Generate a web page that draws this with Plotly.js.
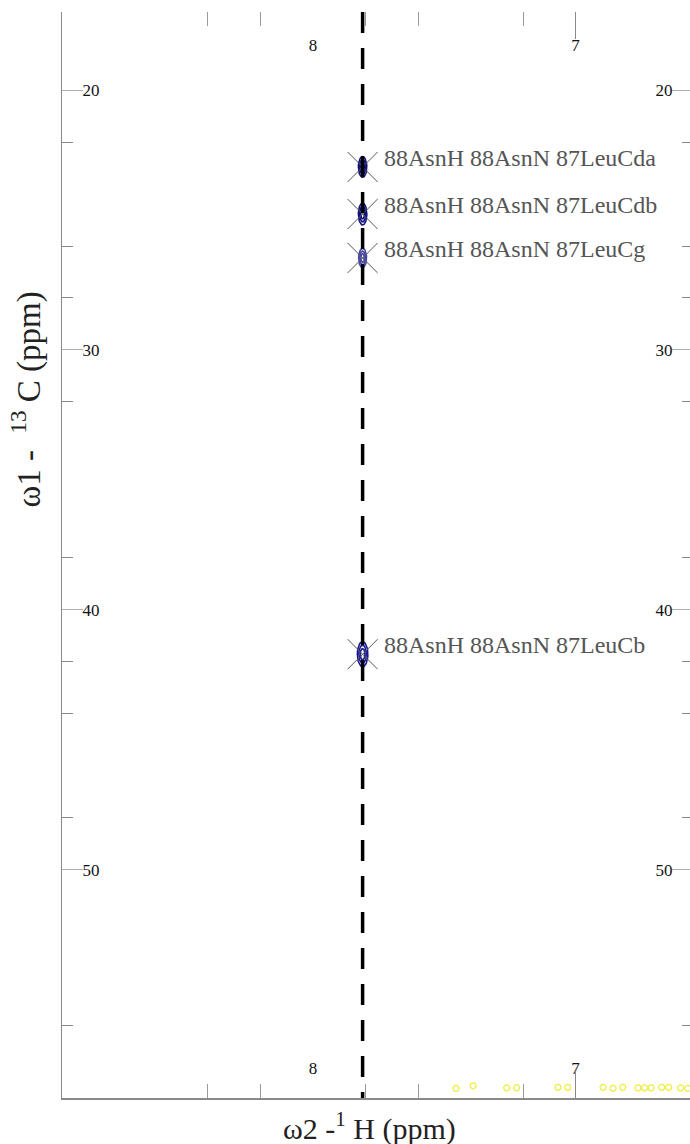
<!DOCTYPE html>
<html>
<head>
<meta charset="utf-8">
<script src="https://cdn.plot.ly/plotly-3.0.1.min.js"></script>
<style>
  html, body { margin: 0; padding: 0; background: #fff; }
  #plot { width: 690px; height: 1144px; }
</style>
</head>
<body>
<div id="plot"></div>
<script>
// Strip of an H(N)CO-type spectrum: 1H (omega2) against 13C (omega1)

// Assigned peaks
const peak_labels = [
  '88AsnH 88AsnN 87LeuCda',
  '88AsnH 88AsnN 87LeuCdb',
  '88AsnH 88AsnN 87LeuCg',
  '88AsnH 88AsnN 87LeuCb'
];
const peak_h = [7.811, 7.811, 7.811, 7.811];        // omega2, ppm
const peak_c = [22.96, 24.77, 26.46, 41.70];        // omega1, ppm
const peak_rh = [0.016, 0.016, 0.015, 0.020];       // contour half-width, ppm
const peak_rc = [0.40, 0.42, 0.37, 0.48];           // contour half-height, ppm
const peak_colors = ['#12127e', '#12127e', '#4848a8', '#1a1a90'];

// Strip centre (dashed line)
const strip_h = 7.811;

// Low-level noise contours along the bottom edge
const noise_h = [7.455, 7.390, 7.262, 7.224, 7.067, 7.030, 6.895, 6.857, 6.820,
                 6.762, 6.737, 6.712, 6.672, 6.645, 6.600, 6.572];
const noise_c = [58.40, 58.30, 58.38, 58.38, 58.36, 58.36, 58.36, 58.40, 58.36,
                 58.38, 58.38, 58.38, 58.36, 58.36, 58.38, 58.40];

// Axis ranges and ticks
const h_range = [8.956, 6.564];
const c_range = [58.77, 17.0];
const h_label_vals = [8, 7];
const h_minor_vals = [8.4, 8.2, 7.8, 7.6, 7.2];
const h_long_vals = [7.0];
const c_label_vals = [20, 30, 40, 50];
const c_minor_vals = [22, 26, 28, 32, 38, 42, 44, 48, 56];

const serif = 'Liberation Serif';
const traces = [];

// Peak contours: nested rings around each centre
const levels = [1.0, 0.72, 0.45];
peak_h.forEach((h, i) => {
  levels.forEach(f => {
    const xs = [], ys = [];
    for (let k = 0; k <= 48; k++) {
      const t = 2 * Math.PI * k / 48;
      xs.push(h + peak_rh[i] * f * Math.cos(t));
      ys.push(peak_c[i] + peak_rc[i] * f * Math.sin(t));
    }
    traces.push({
      type: 'scatter', mode: 'lines', x: xs, y: ys,
      line: { color: peak_colors[i], width: 1.6 },
      hoverinfo: 'skip', showlegend: false
    });
  });
});

// Peak crosses
traces.push({
  type: 'scatter', mode: 'markers', x: peak_h, y: peak_c,
  marker: { symbol: 'x-thin-open', size: 30, color: '#555555', line: { color: '#555555', width: 1 } },
  text: peak_labels, hoverinfo: 'text', showlegend: false
});

// Noise contours
traces.push({
  type: 'scatter', mode: 'markers', x: noise_h, y: noise_c,
  marker: { symbol: 'circle-open', size: 6, color: '#eeec3a', line: { color: '#eeec3a', width: 1.2 } },
  hoverinfo: 'skip', showlegend: false
});

// Strip centre line
traces.push({
  type: 'scatter', mode: 'lines',
  x: [strip_h, strip_h], y: [c_range[1], c_range[0]],
  line: { color: '#000000', width: 3.5, dash: '21px,15px' },
  hoverinfo: 'skip', showlegend: false
});

const tickFont = { family: serif, size: 17, color: '#111' };

const layout = {
  width: 690, height: 1144,
  margin: { l: 62, r: 0, t: 12, b: 46 },
  paper_bgcolor: '#fff', plot_bgcolor: '#fff',
  showlegend: false,
  xaxis: {
    range: h_range, showgrid: false, zeroline: false,
    showline: true, linecolor: '#8a8a8a', linewidth: 1.5,
    tickmode: 'array', tickvals: h_label_vals, ticktext: h_label_vals.map(String),
    ticks: 'inside', ticklen: 21, tickcolor: 'rgba(0,0,0,0)',
    ticklabelposition: 'inside', tickfont: tickFont,
    minor: { tickmode: 'array', tickvals: h_minor_vals, ticks: 'inside', ticklen: 14, tickcolor: '#9a9a9a', tickwidth: 1 }
  },
  xaxis2: {
    overlaying: 'x', side: 'top', anchor: 'y', matches: 'x',
    range: h_range, showgrid: false, zeroline: false, showline: false,
    tickmode: 'array', tickvals: h_label_vals, ticktext: h_label_vals.map(String),
    ticks: 'inside', ticklen: 28, tickcolor: 'rgba(0,0,0,0)',
    ticklabelposition: 'inside', tickfont: tickFont,
    minor: { tickmode: 'array', tickvals: h_minor_vals, ticks: 'inside', ticklen: 14, tickcolor: '#9a9a9a', tickwidth: 1 }
  },
  xaxis3: {
    overlaying: 'x', side: 'bottom', anchor: 'y', matches: 'x',
    range: h_range, showgrid: false, zeroline: false, showline: false,
    tickmode: 'array', tickvals: h_long_vals, showticklabels: false,
    ticks: 'inside', ticklen: 27, tickcolor: '#8a8a8a', tickwidth: 1
  },
  xaxis4: {
    overlaying: 'x', side: 'top', anchor: 'y', matches: 'x',
    range: h_range, showgrid: false, zeroline: false, showline: false,
    tickmode: 'array', tickvals: h_long_vals, showticklabels: false,
    ticks: 'inside', ticklen: 27, tickcolor: '#8a8a8a', tickwidth: 1
  },
  yaxis: {
    range: c_range, showgrid: false, zeroline: false,
    showline: true, linecolor: '#8a8a8a', linewidth: 1.5,
    tickmode: 'array', tickvals: c_label_vals, ticktext: c_label_vals.map(String),
    ticks: 'inside', ticklen: 21, tickcolor: '#b0b0b0', tickwidth: 1,
    ticklabelposition: 'inside', tickfont: tickFont,
    minor: { tickmode: 'array', tickvals: c_minor_vals, ticks: 'inside', ticklen: 11, tickcolor: '#8a8a8a', tickwidth: 1 }
  },
  yaxis2: {
    overlaying: 'y', side: 'right', anchor: 'x', matches: 'y',
    range: c_range, showgrid: false, zeroline: false, showline: false,
    tickmode: 'array', tickvals: c_label_vals, ticktext: c_label_vals.map(String),
    ticks: 'inside', ticklen: 18, tickcolor: '#b0b0b0', tickwidth: 1,
    ticklabelposition: 'inside', tickfont: tickFont,
    minor: { tickmode: 'array', tickvals: c_minor_vals, ticks: 'inside', ticklen: 8, tickcolor: '#8a8a8a', tickwidth: 1 }
  },
  annotations: [],
  font: { family: serif }
};

// Peak assignment labels
peak_labels.forEach((t, i) => {
  layout.annotations.push({
    x: peak_h[i], y: peak_c[i], xref: 'x', yref: 'y',
    text: t, showarrow: false,
    xanchor: 'left', yanchor: 'bottom', xshift: 19, yshift: -6,
    font: { family: serif, size: 24, color: '#555555' }
  });
});

// Axis titles
layout.annotations.push({
  xref: 'paper', yref: 'paper', x: 0.490, y: -0.026,
  xanchor: 'center', yanchor: 'middle', showarrow: false,
  text: 'ω2 -<sup>1</sup> H (ppm)',
  font: { family: serif, size: 30, color: '#222' }
});
layout.annotations.push({
  xref: 'paper', yref: 'paper', x: -0.056, y: 0.643,
  xanchor: 'center', yanchor: 'middle', showarrow: false, textangle: -90,
  text: 'ω1 -  <sup>13</sup> C (ppm)',
  font: { family: serif, size: 33, color: '#222' }
});

// Tie the overlay axes to the data traces so every axis is drawn
traces.push({ type: 'scatter', x: [], y: [], xaxis: 'x2', yaxis: 'y', showlegend: false, hoverinfo: 'skip' });
traces.push({ type: 'scatter', x: [], y: [], xaxis: 'x3', yaxis: 'y', showlegend: false, hoverinfo: 'skip' });
traces.push({ type: 'scatter', x: [], y: [], xaxis: 'x4', yaxis: 'y', showlegend: false, hoverinfo: 'skip' });
traces.push({ type: 'scatter', x: [], y: [], xaxis: 'x', yaxis: 'y2', showlegend: false, hoverinfo: 'skip' });

Plotly.newPlot('plot', traces, layout, { displayModeBar: false, staticPlot: true });
</script>
</body>
</html>
